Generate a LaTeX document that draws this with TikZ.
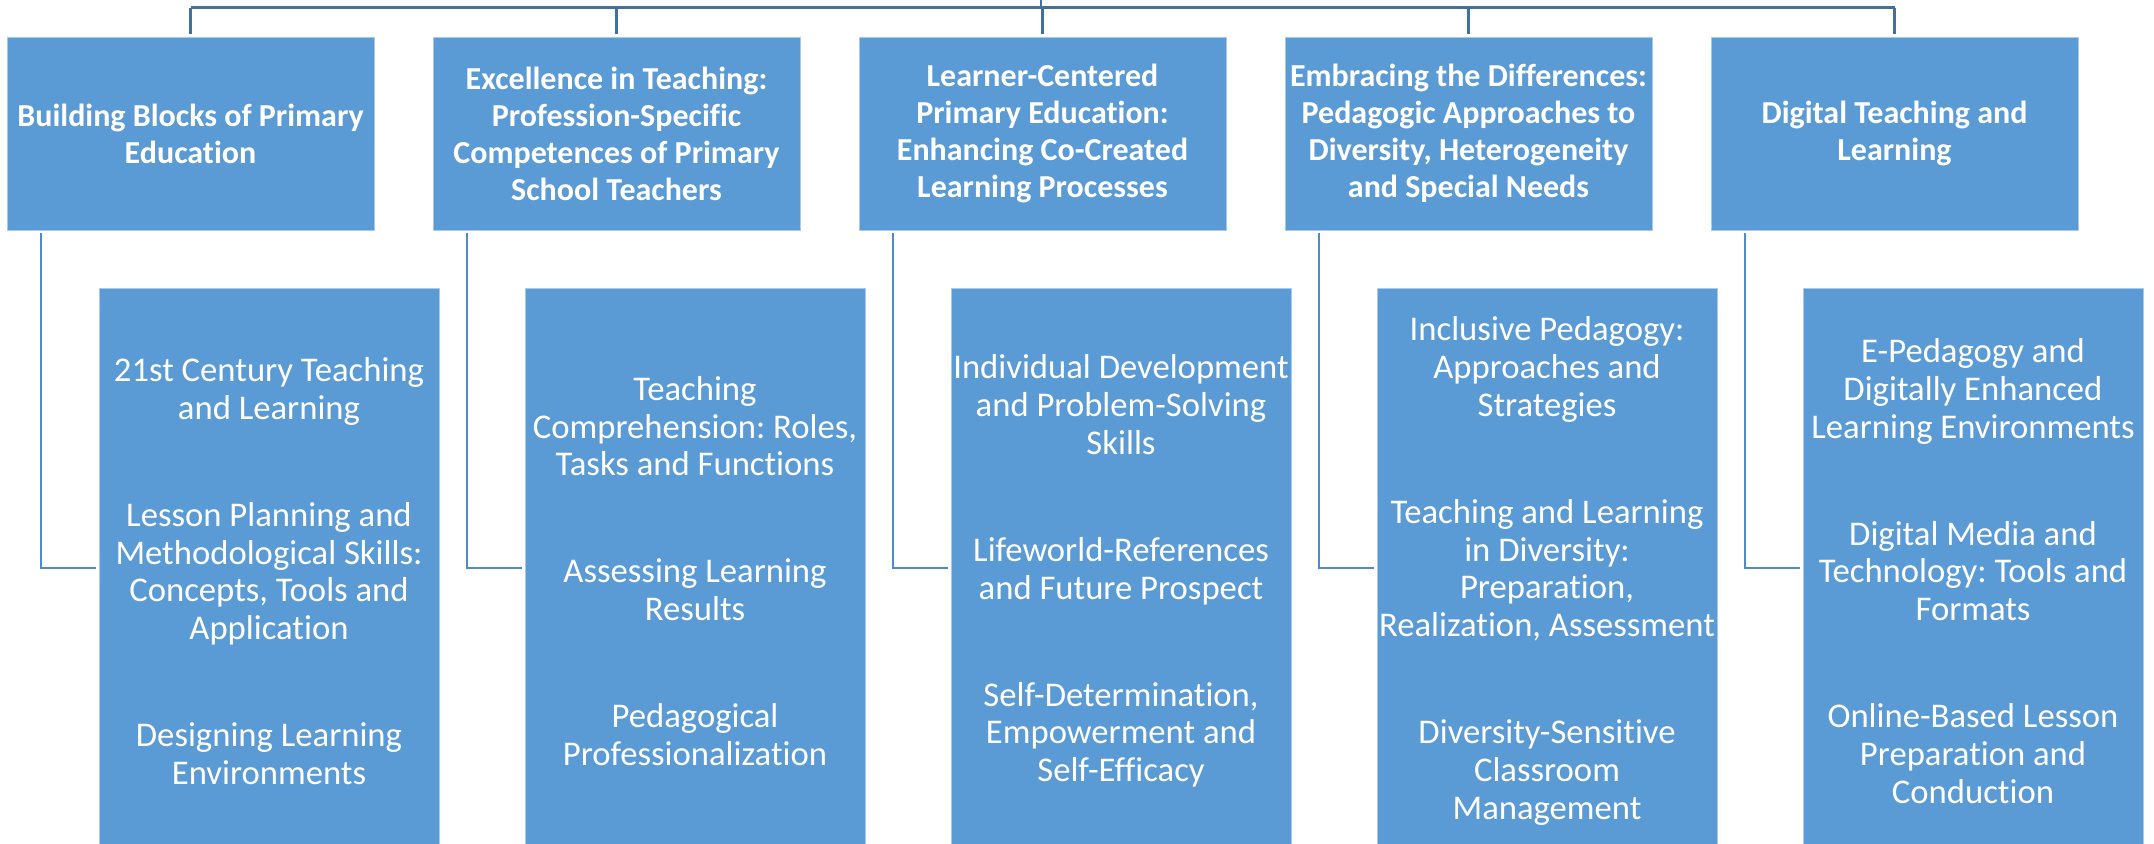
\documentclass[tikz,border=0pt]{standalone}
\usepackage{fontspec}
\setmainfont{Carlito}[Ligatures=NoCommon]
\definecolor{boxblue}{HTML}{5B9BD5}
\definecolor{treeline}{HTML}{41719C}
\definecolor{branchline}{HTML}{4F8BC9}
\definecolor{boxedge}{HTML}{A9C9EA}
\newdimen\pxu \pxu=0.75pt
\tikzset{
  parentbox/.style={rectangle, fill=boxblue, draw=boxedge, line width=0.5pt,
    minimum width=367\pxu, minimum height=193\pxu, inner sep=0pt,
    align=center, text=white, font=\fontsize{24}{27.7}\selectfont\bfseries},
  childbox/.style={rectangle, fill=boxblue, draw=boxedge, line width=0.5pt,
    minimum width=340\pxu, minimum height=566\pxu, inner sep=0pt},
  childtext/.style={align=center, text=white, inner sep=0pt,
    font=\fontsize{26}{28.3}\selectfont},
  treelink/.style={draw=treeline, line width=1.8pt},
  branchlink/.style={draw=branchline, line width=1.5pt},
}
\newcommand{\pgap}{\\[52pt]}
\frenchspacing
\begin{document}
\begin{tikzpicture}[x=0.75pt,y=-0.75pt]
\useasboundingbox (0,0) rectangle (2154,843);
\clip (0,0) rectangle (2154,843);

% top-level topics
\node[parentbox] (p1) at (190.5,133.5) {Building Blocks of Primary\\Education};
\node[parentbox] (p2) at (616.5,133.5) {Excellence in Teaching:\\Profession-Specific\\Competences of Primary\\School Teachers};
\node[parentbox] (p3) at (1042.5,133.5) {Learner-Centered\\Primary Education:\\Enhancing Co-Created\\Learning Processes};
\node[parentbox] (p4) at (1468.5,133.5) {Embracing the Differences:\\Pedagogic Approaches to\\Diversity, Heterogeneity\\and Special Needs};
\node[parentbox] (p5) at (1894.5,133.5) {Digital Teaching and\\Learning};

% module lists
\foreach \i/\cx in {1/269,2/695,3/1121,4/1547,5/1973}
  \node[childbox] (c\i) at (\cx,571) {};

\node[childtext] (t1) at (c1.center) {21st Century Teaching\\and Learning\pgap
  Lesson Planning and\\Methodological Skills:\\Concepts, Tools and\\Application\pgap
  Designing Learning\\Environments};
\node[childtext] (t2) at (c2.center) {Teaching\\Comprehension: Roles,\\Tasks and Functions\pgap
  Assessing Learning\\Results\pgap
  Pedagogical\\Professionalization};
\node[childtext] (t3) at (c3.center) {Individual Development\\and Problem-Solving\\Skills\pgap
  Lifeworld-References\\and Future Prospect\pgap
  Self-Determination,\\Empowerment and\\Self-Efficacy};
\node[childtext] (t4) at (c4.center) {Inclusive Pedagogy:\\Approaches and\\Strategies\pgap
  Teaching and Learning\\in Diversity:\\Preparation,\\Realization, Assessment\pgap
  Diversity-Sensitive\\Classroom\\Management};
\node[childtext] (t5) at (c5.center) {E-Pedagogy and\\Digitally Enhanced\\Learning Environments\pgap
  Digital Media and\\Technology: Tools and\\Formats\pgap
  Online-Based Lesson\\Preparation and\\Conduction};

% hierarchy lines from the root above
\coordinate (root) at (1041,-20);
\coordinate (bar) at (1041,7.5);
\draw[treelink] (root) -- (bar);
\draw[treelink] (p1.north |- bar) -- (p5.north |- bar);
\foreach \i in {1,...,5}
  \draw[treelink] (p\i.north |- bar) -- ([yshift=2.25pt]p\i.north);

% elbow links from each topic to its list
\foreach \i in {1,...,5}
  \draw[branchlink] ([xshift=25.9pt,yshift=-2.25pt]p\i.south west)
    |- ([xshift=-2pt,yshift=2.5pt]c\i.west);
\end{tikzpicture}
\end{document}
